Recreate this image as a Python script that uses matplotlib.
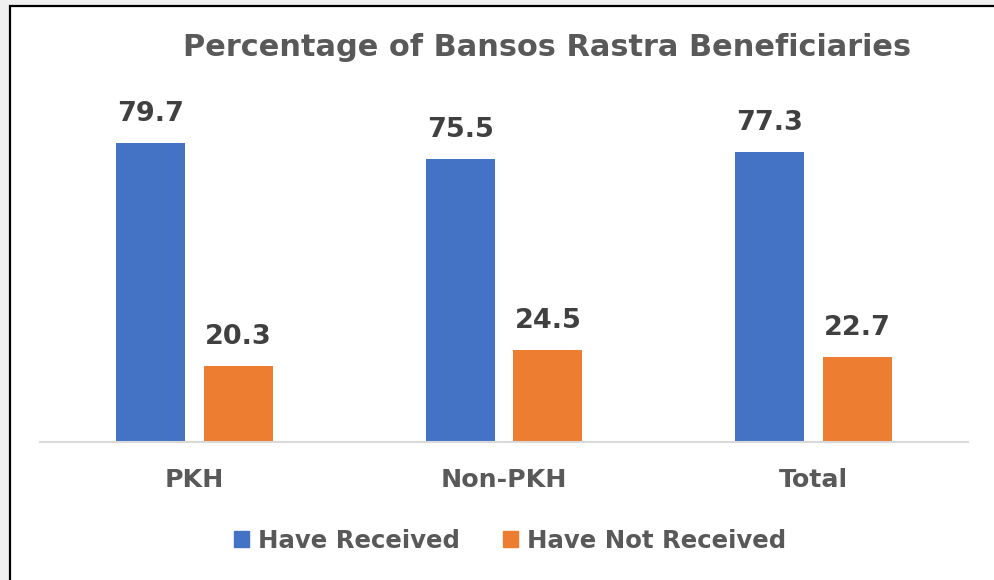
import matplotlib.pyplot as plt
from matplotlib.patches import Rectangle, Patch
import numpy as np

categories = ['PKH', 'Non-PKH', 'Total']
have_received = [79.7, 75.5, 77.3]
have_not_received = [20.3, 24.5, 22.7]
series_names = ['Have Received', 'Have Not Received']
title = 'Percentage of Bansos Rastra Beneficiaries'

BLUE = '#4472c4'
ORANGE = '#ed7d31'
plt.rcParams['font.family'] = ['DejaVu Sans']

fig = plt.figure(figsize=(9.94, 5.80), dpi=100, facecolor='#f0f0f0')
# white chart area with black frame on left and top
fig.patches.append(Rectangle((10 / 994, -0.1), 1.2, 1 - 6 / 580 + 0.1,
                             transform=fig.transFigure, facecolor='white',
                             edgecolor='black', linewidth=1.6, zorder=-5))

ax = fig.add_axes([40 / 994, 1 - 442 / 580, 928 / 994, 382 / 580])
ax.set_facecolor('none')

x = np.arange(len(categories))
w = 0.223
off = 0.142
b1 = ax.bar(x - off, have_received, w, color=BLUE)
b2 = ax.bar(x + off, have_not_received, w, color=ORANGE)

for bars, vals in [(b1, have_received), (b2, have_not_received)]:
    for b, v in zip(bars, vals):
        ax.annotate(f'{v:.1f}', (b.get_x() + b.get_width() / 2, v),
                    xytext=(0, 11.5), textcoords='offset points',
                    ha='center', va='bottom', fontsize=19.5,
                    fontweight='bold', color='#404040')

ax.set_xlim(-0.5, 2.5)
ax.set_ylim(0, 101.8)
ax.set_yticks([])
ax.set_xticks(x)
ax.set_xticklabels(categories, fontsize=18.2, fontweight='bold', color='#595959')
ax.tick_params(axis='x', length=0, pad=19)
for s in ['top', 'right', 'left']:
    ax.spines[s].set_visible(False)
ax.spines['bottom'].set_color('#d9d9d9')
ax.spines['bottom'].set_linewidth(1.5)

fig.text(547 / 994, 1 - 47 / 580, title, ha='center', va='center',
         fontsize=21.9, fontweight='bold', color='#595959')

handles = [Patch(color=BLUE), Patch(color=ORANGE)]
fig.legend(handles, series_names, loc='center', bbox_to_anchor=(510 / 994, 1 - 541 / 580),
           ncol=2, frameon=False, handlelength=0.62, handleheight=0.62,
           handletextpad=0.36, columnspacing=1.75,
           prop={'size': 17.6, 'weight': 'bold'}, labelcolor='#595959')

fig.savefig('out.png', dpi=100, facecolor=fig.get_facecolor())
